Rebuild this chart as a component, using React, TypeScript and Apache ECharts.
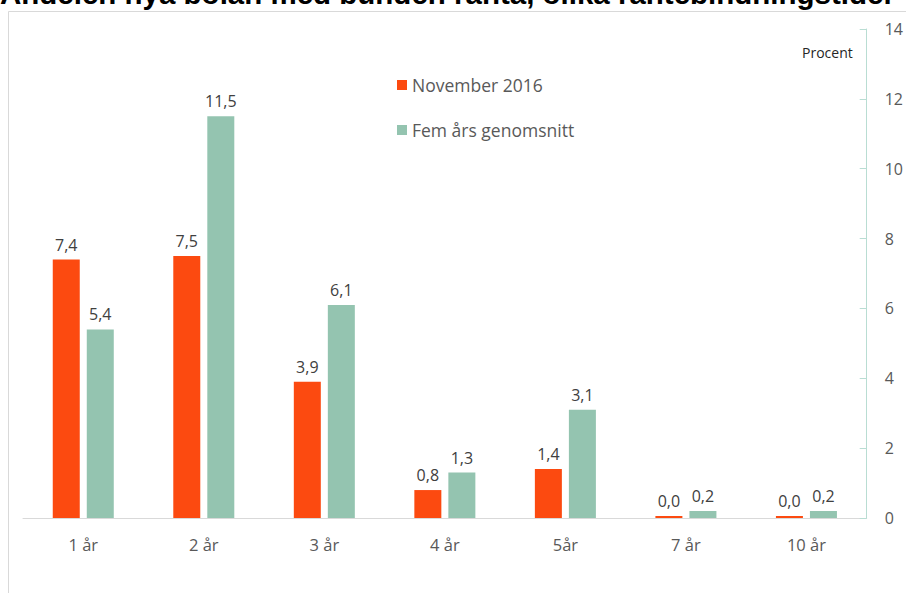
import React, { useEffect, useRef } from "react";
import * as echarts from "echarts";

const categories = ["1 år", "2 år", "3 år", "4 år", "5år", "7 år", "10 år"];
const november2016 = [7.4, 7.5, 3.9, 0.8, 1.4, 0.0, 0.0];
const femArsSnitt = [5.4, 11.5, 6.1, 1.3, 3.1, 0.2, 0.2];
const seriesNames = ["November 2016", "Fem års genomsnitt"];
const titleText = "Andelen nya bolån med bunden ränta, olika räntebindningstider";
const unitText = "Procent";

const FONT = "'Open Sans', 'Noto Sans', sans-serif";
const fmt = (v: number) => v.toFixed(1).replace(".", ",");

export default function App() {
  const ref = useRef<HTMLDivElement>(null);
  useEffect(() => {
    if (!ref.current) return;
    const chart = echarts.init(ref.current, null, { renderer: "svg" });
    const labelCfg = {
      show: true,
      position: "top" as const,
      distance: 7,
      fontFamily: FONT,
      fontSize: 16,
      color: "#404040",
      formatter: (p: any) => fmt(p.value),
    };
    chart.setOption({
      animation: false,
      backgroundColor: "#ffffff",
      textStyle: { fontFamily: FONT },
      graphic: [
        {
          type: "rect",
          shape: { x: 8.5, y: 11.5, width: 1000, height: 1000 },
          style: { fill: "none", stroke: "#d9d9d9", lineWidth: 1 },
          silent: true,
        },
        {
          type: "text",
          x: 0,
          y: -7,
          style: {
            text: titleText,
            fontFamily: "'Liberation Sans', Arial, sans-serif",
            fontWeight: "bold",
            fontSize: 29.5,
            fill: "#000000",
            verticalAlign: "middle",
            align: "left",
          },
        },
        {
          type: "text",
          x: 802,
          y: 52,
          style: {
            text: unitText,
            fontFamily: FONT,
            fontSize: 14,
            fill: "#262626",
            verticalAlign: "middle",
          },
        },
      ],
      legend: {
        orient: "vertical",
        left: 392,
        top: 71,
        itemWidth: 10,
        itemHeight: 10,
        itemGap: 27,
        icon: "rect",
        textStyle: { fontFamily: FONT, fontSize: 17.5, color: "#595959" },
        data: seriesNames,
      },
      grid: { left: 23, right: 36, top: 29, bottom: 75 },
      xAxis: {
        type: "category",
        data: categories,
        axisLine: { lineStyle: { color: "#d9d9d9", width: 1 } },
        axisTick: { show: false },
        axisLabel: { fontFamily: FONT, fontSize: 16.5, color: "#595959", margin: 18 },
      },
      yAxis: {
        type: "value",
        position: "right",
        min: 0,
        max: 14,
        interval: 2,
        axisLine: { show: true, lineStyle: { color: "#b9ddd3", width: 1 } },
        axisTick: { show: true, inside: true, length: 7, lineStyle: { color: "#b9ddd3" } },
        splitLine: { show: false },
        axisLabel: { fontFamily: FONT, fontSize: 16, color: "#595959", margin: 18 },
      },
      series: [
        {
          name: seriesNames[0],
          type: "bar",
          data: november2016,
          barWidth: 27,
          barGap: "26%",
          barMinHeight: 2,
          itemStyle: { color: "#fc4a10" },
          label: labelCfg,
        },
        {
          name: seriesNames[1],
          type: "bar",
          data: femArsSnitt,
          barWidth: 27,
          barMinHeight: 2,
          itemStyle: { color: "#94c4b0" },
          label: labelCfg,
        },
      ],
    });
    return () => chart.dispose();
  }, []);
  return (
    <div
      ref={ref}
      style={{ position: "fixed", left: 0, top: 0, width: 906, height: 593 }}
    />
  );
}
